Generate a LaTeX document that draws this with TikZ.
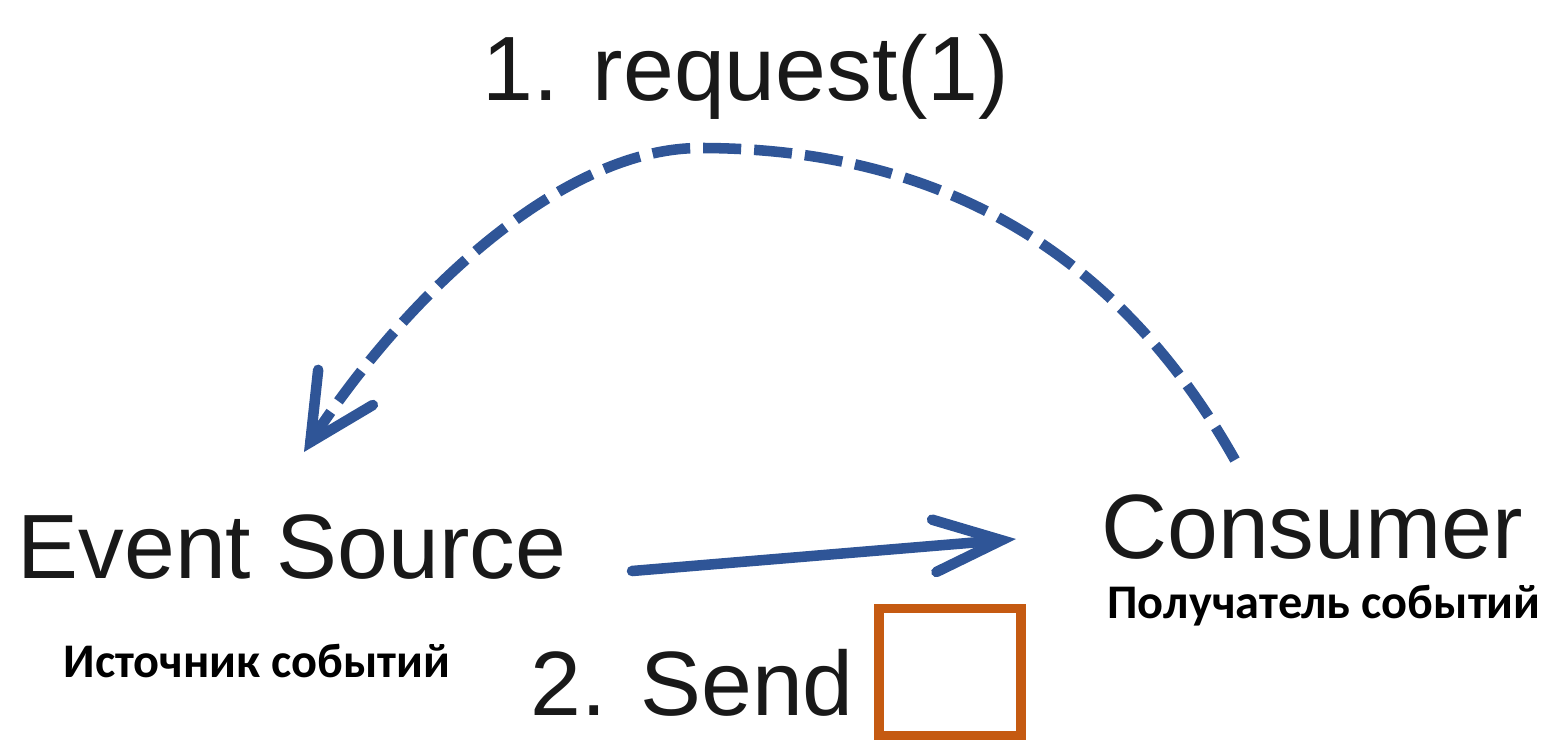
\documentclass[tikz,border=0pt]{standalone}
\usepackage{fontspec}
\usepackage{tikz}
\usetikzlibrary{arrows.meta}
\newfontfamily\handfont{Liberation Sans}
\newfontfamily\labelfont{Carlito}
\definecolor{flowblue}{HTML}{2F5597}
\definecolor{boxorange}{HTML}{C55A11}
\tikzset{
  hand/.style={font=\handfont\fontsize{52}{60}\selectfont, text=black!90, inner sep=0pt},
  sub/.style={font=\labelfont\bfseries\fontsize{27.5}{32}\selectfont, inner sep=0pt},
  flow/.style={flowblue, line width=6pt}
}
\begin{document}
\begin{tikzpicture}[x=0.02cm, y=-0.02cm]
      \useasboundingbox (0,0) rectangle (1543,741);
      % Les deux acteurs
      \node[hand, anchor=base] (src) at (292,578) {Event Source};
      \node[hand, anchor=base] (cons) at (1312,558) {Consumer};
      \node[sub, anchor=base] (srcru) at (257,677) {Источник событий};
      \node[sub, anchor=base] (consru) at (1324,618) {Получатель событий};
      % Étiquettes des messages
      \node[hand, anchor=base] (req) at (746,100) {1. request(1)};
      \node[hand, anchor=base] (send) at (692,715) {2. Send};
      \node[draw=boxorange, line width=5.5pt, minimum width=2.84cm, minimum height=2.54cm] (evt) at (950,672) {};
      % Points d'attache des flèches
      \coordinate (src-out) at (632,571);
      \coordinate (cons-in) at (1016,539);
      \coordinate (cons-up) at (1235,460);
      \coordinate (src-up) at (304,452);
      \coordinate (top) at (700,148);
      % Flèche 2 : envoi
      \draw[flow, line cap=round, -{Straight Barb[length=1.35cm, width=1.05cm, line cap=round]}] (src-out) -- (cons-in);
      % Flèche 1 : demande (pointillés)
      \draw[flow, dash pattern=on 0.76cm off 0.26cm] (cons-up) .. controls (1100,220) and (900,148) .. (top)
        .. controls (560,148) and (400,300) .. (src-up);
      \draw[flow, line cap=round, {Straight Barb[length=1.3cm, width=1.3cm, line cap=round]}-] (src-up) -- ++(18,-28);
\end{tikzpicture}
\end{document}
